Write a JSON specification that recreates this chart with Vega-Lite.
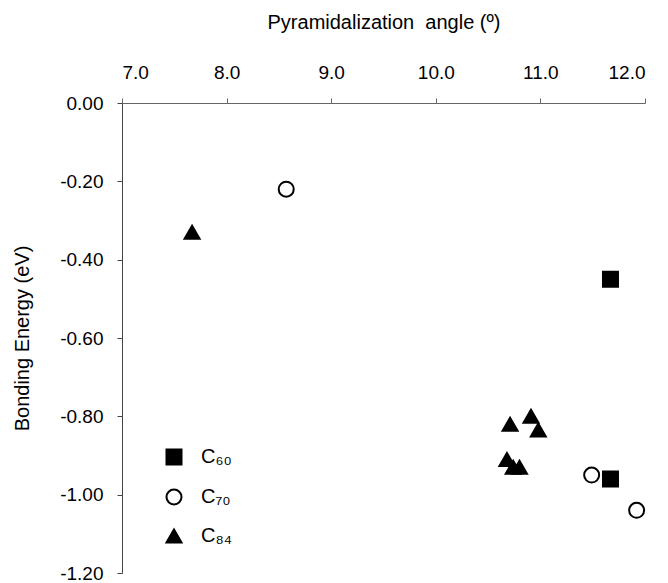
{
  "$schema": "https://vega.github.io/schema/vega-lite/v6.json",
  "autosize": "none",
  "width": 523,
  "height": 470,
  "padding": {"left": 122, "top": 103, "right": 23, "bottom": 10},
  "background": "white",
  "data": {
    "values": [
      {"series": "C₆₀", "angle": 11.67, "energy": -0.45},
      {"series": "C₆₀", "angle": 11.67, "energy": -0.96},
      {"series": "C₇₀", "angle": 8.57, "energy": -0.22},
      {"series": "C₇₀", "angle": 11.49, "energy": -0.95},
      {"series": "C₇₀", "angle": 11.92, "energy": -1.04},
      {"series": "C₈₄", "angle": 7.67, "energy": -0.33},
      {"series": "C₈₄", "angle": 10.71, "energy": -0.82},
      {"series": "C₈₄", "angle": 10.91, "energy": -0.80},
      {"series": "C₈₄", "angle": 10.98, "energy": -0.835},
      {"series": "C₈₄", "angle": 10.68, "energy": -0.91},
      {"series": "C₈₄", "angle": 10.74, "energy": -0.93},
      {"series": "C₈₄", "angle": 10.80, "energy": -0.93}
    ]
  },
  "mark": {"type": "point", "size": 225, "strokeWidth": 2, "opacity": 1},
  "encoding": {
    "x": {
      "field": "angle", "type": "quantitative",
      "scale": {"domain": [7, 12], "nice": false, "zero": false},
      "axis": {
        "orient": "top", "title": "Pyramidalization\u00a0 angle (º)",
        "values": [7, 8, 9, 10, 11, 12], "format": ".1f",
        "grid": false, "tickSize": 5, "labelPadding": 16, "titlePadding": 31,
        "domainColor": "#666", "tickColor": "#666", "labelFontSize": 19, "titleFontSize": 20,
        "titleFontWeight": "normal", "labelColor": "black", "titleColor": "black"
      }
    },
    "y": {
      "field": "energy", "type": "quantitative",
      "scale": {"domain": [-1.2, 0], "nice": false, "zero": false},
      "axis": {
        "title": "Bonding Energy (eV)",
        "values": [0, -0.2, -0.4, -0.6, -0.8, -1.0, -1.2], "format": ".2f",
        "labelExpr": "replace(datum.label, '−', '-')",
        "grid": false, "tickSize": 5, "labelPadding": 14, "titlePadding": 27,
        "domainColor": "#444", "tickColor": "#444", "labelFontSize": 19, "titleFontSize": 20,
        "titleFontWeight": "normal", "labelColor": "black", "titleColor": "black"
      }
    },
    "shape": {
      "field": "series", "type": "nominal",
      "scale": {"domain": ["C₆₀", "C₇₀", "C₈₄"], "range": ["square", "circle", "triangle-up"]},
      "legend": {
        "title": null, "orient": "none", "legendX": 42, "legendY": 344,
        "labelFontSize": 20, "labelColor": "black", "rowPadding": 16, "labelOffset": 17, "padding": 0,
        "symbolSize": 225, "symbolStrokeWidth": 2
      }
    },
    "fill": {
      "field": "series", "type": "nominal",
      "scale": {"domain": ["C₆₀", "C₇₀", "C₈₄"], "range": ["black", "white", "black"]},
      "legend": {
        "title": null, "orient": "none", "legendX": 42, "legendY": 344,
        "labelFontSize": 20, "labelColor": "black", "rowPadding": 16, "labelOffset": 17, "padding": 0,
        "symbolSize": 225, "symbolStrokeWidth": 2
      }
    },
    "stroke": {
      "field": "series", "type": "nominal",
      "scale": {"domain": ["C₆₀", "C₇₀", "C₈₄"], "range": ["black", "black", "black"]},
      "legend": {
        "title": null, "orient": "none", "legendX": 42, "legendY": 344,
        "labelFontSize": 20, "labelColor": "black", "rowPadding": 16, "labelOffset": 17, "padding": 0,
        "symbolSize": 225, "symbolStrokeWidth": 2
      }
    }
  },
  "config": {
    "font": "Liberation Sans",
    "view": {"stroke": null}
  }
}
